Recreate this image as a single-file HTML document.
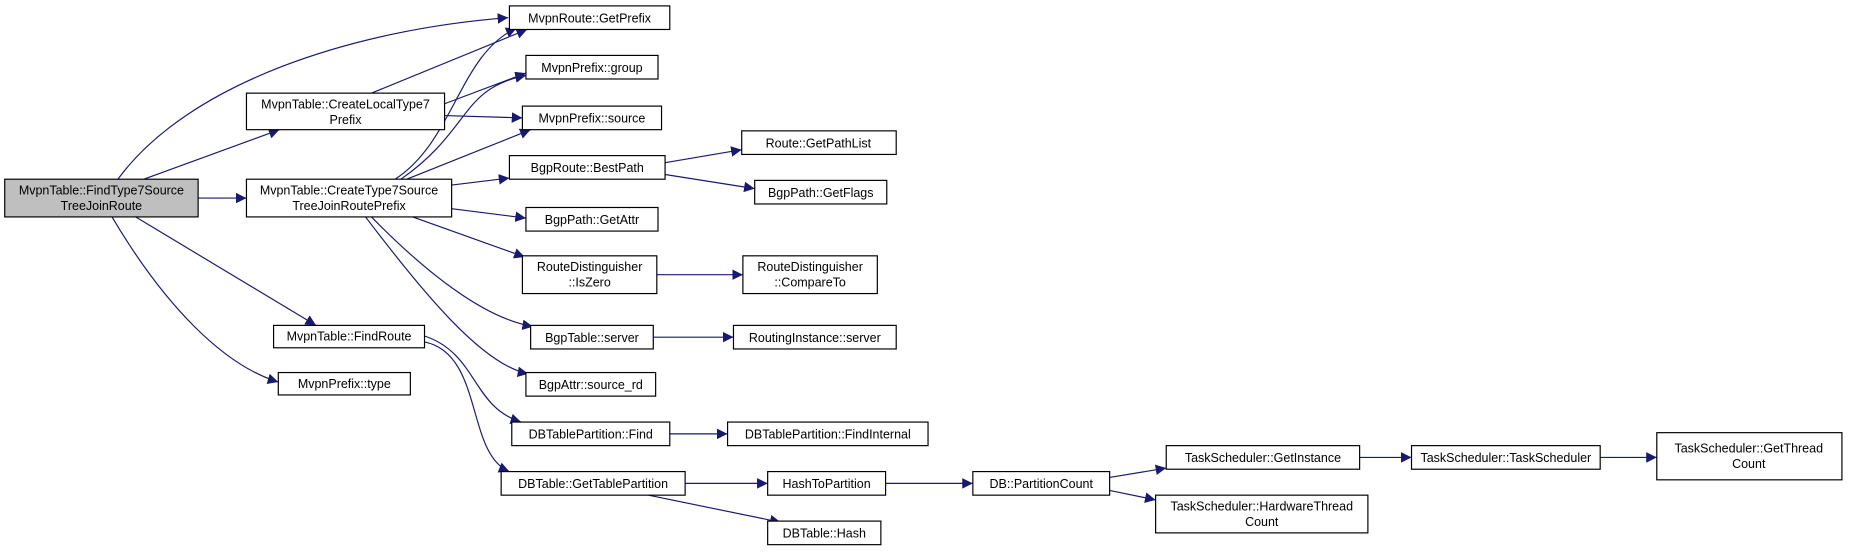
<!DOCTYPE html>
<html><head><meta charset="utf-8"><style>
html,body{margin:0;padding:0;background:#fff;}
svg{display:block;}
text{font-family:"Liberation Sans",Arial,sans-serif;font-size:10.6px;fill:#000;text-anchor:middle;}
.b{fill:#fff;stroke:#000;stroke-width:1;}
.e{fill:none;stroke:#191970;stroke-width:1;}
</style></head><body>
<svg width="1849" height="560" viewBox="0 0 1568 475" preserveAspectRatio="none" xmlns="http://www.w3.org/2000/svg">
<defs><marker id="a" viewBox="0 0 10 10" refX="10" refY="5" markerWidth="9" markerHeight="9" markerUnits="userSpaceOnUse" orient="auto"><path d="M0,0 L10,5 L0,10 z" fill="#191970"/></marker></defs>
<g marker-end="url(#a)">
<path class="e" d="M100,152 C160,70 300,25 431,15"/>
<path class="e" d="M122,152 L237,110"/>
<path class="e" d="M168,168 L209,168"/>
<path class="e" d="M115,184 L268,276"/>
<path class="e" d="M95,184 C140,260 190,310 236,324"/>
<path class="e" d="M315,79 L447,25"/>
<path class="e" d="M377,88 L446,62"/>
<path class="e" d="M377,98 L443,100"/>
<path class="e" d="M335,152 C385,120 390,45 438,24"/>
<path class="e" d="M340,152 C400,110 390,75 446,64"/>
<path class="e" d="M345,152 L450,110"/>
<path class="e" d="M383,157 L432,151"/>
<path class="e" d="M383,177 L446,185"/>
<path class="e" d="M350,184 L445,218"/>
<path class="e" d="M315,184 C360,230 410,270 452,277"/>
<path class="e" d="M310,184 C360,250 410,310 448,317"/>
<path class="e" d="M360,285 C405,300 400,345 442,358"/>
<path class="e" d="M360,290 C410,300 395,385 432,400"/>
<path class="e" d="M564,138 L629,127"/>
<path class="e" d="M564,148 L640,160"/>
<path class="e" d="M557,233 L630,233"/>
<path class="e" d="M554,286 L622,286"/>
<path class="e" d="M568,368 L617,368"/>
<path class="e" d="M581,410 L651,410"/>
<path class="e" d="M550,420 L662,443"/>
<path class="e" d="M751,410 L825,410"/>
<path class="e" d="M941,405 L989,397"/>
<path class="e" d="M941,416 L980,424"/>
<path class="e" d="M1153,388 L1197,388"/>
<path class="e" d="M1357,388 L1405,388"/>
</g>
<rect x="4" y="152" width="164" height="32" fill="#bfbfbf" stroke="#000"/>
<text x="86" y="165">MvpnTable::FindType7Source</text><text x="86" y="178">TreeJoinRoute</text>
<rect class="b" x="209" y="79" width="168" height="31"/><text x="293" y="92">MvpnTable::CreateLocalType7</text><text x="293" y="105">Prefix</text>
<rect class="b" x="209" y="152" width="174" height="32"/><text x="296" y="165">MvpnTable::CreateType7Source</text><text x="296" y="178">TreeJoinRoutePrefix</text>
<rect class="b" x="232" y="276" width="128" height="19"/><text x="296" y="289">MvpnTable::FindRoute</text>
<rect class="b" x="236" y="316" width="112" height="19"/><text x="292" y="329">MvpnPrefix::type</text>
<rect class="b" x="432" y="5" width="136" height="20"/><text x="500" y="19">MvpnRoute::GetPrefix</text>
<rect class="b" x="446" y="47" width="112" height="20"/><text x="502" y="61">MvpnPrefix::group</text>
<rect class="b" x="443" y="90" width="118" height="20"/><text x="502" y="104">MvpnPrefix::source</text>
<rect class="b" x="432" y="132" width="132" height="20"/><text x="498" y="146">BgpRoute::BestPath</text>
<rect class="b" x="446" y="176" width="112" height="20"/><text x="502" y="190">BgpPath::GetAttr</text>
<rect class="b" x="443" y="217" width="114" height="32"/><text x="500" y="230">RouteDistinguisher</text><text x="500" y="243">::IsZero</text>
<rect class="b" x="450" y="276" width="104" height="20"/><text x="502" y="290">BgpTable::server</text>
<rect class="b" x="446" y="316" width="110" height="20"/><text x="501" y="330">BgpAttr::source_rd</text>
<rect class="b" x="434" y="358" width="134" height="20"/><text x="501" y="372">DBTablePartition::Find</text>
<rect class="b" x="425" y="400" width="156" height="20"/><text x="503" y="414">DBTable::GetTablePartition</text>
<rect class="b" x="651" y="442" width="96" height="20"/><text x="699" y="456">DBTable::Hash</text>
<rect class="b" x="629" y="111" width="131" height="20"/><text x="694" y="125">Route::GetPathList</text>
<rect class="b" x="640" y="153" width="112" height="20"/><text x="696" y="167">BgpPath::GetFlags</text>
<rect class="b" x="630" y="217" width="114" height="32"/><text x="687" y="230">RouteDistinguisher</text><text x="687" y="243">::CompareTo</text>
<rect class="b" x="622" y="276" width="138" height="20"/><text x="691" y="290">RoutingInstance::server</text>
<rect class="b" x="617" y="358" width="170" height="20"/><text x="702" y="372">DBTablePartition::FindInternal</text>
<rect class="b" x="651" y="400" width="100" height="20"/><text x="701" y="414">HashToPartition</text>
<rect class="b" x="825" y="400" width="116" height="20"/><text x="883" y="414">DB::PartitionCount</text>
<rect class="b" x="989" y="378" width="164" height="20"/><text x="1071" y="392">TaskScheduler::GetInstance</text>
<rect class="b" x="980" y="420" width="180" height="32"/><text x="1070" y="433">TaskScheduler::HardwareThread</text><text x="1070" y="446">Count</text>
<rect class="b" x="1197" y="378" width="160" height="20"/><text x="1277" y="392">TaskScheduler::TaskScheduler</text>
<rect class="b" x="1405" y="367" width="157" height="40"/><text x="1483" y="384">TaskScheduler::GetThread</text><text x="1483" y="397">Count</text>
</svg>
</body></html>
